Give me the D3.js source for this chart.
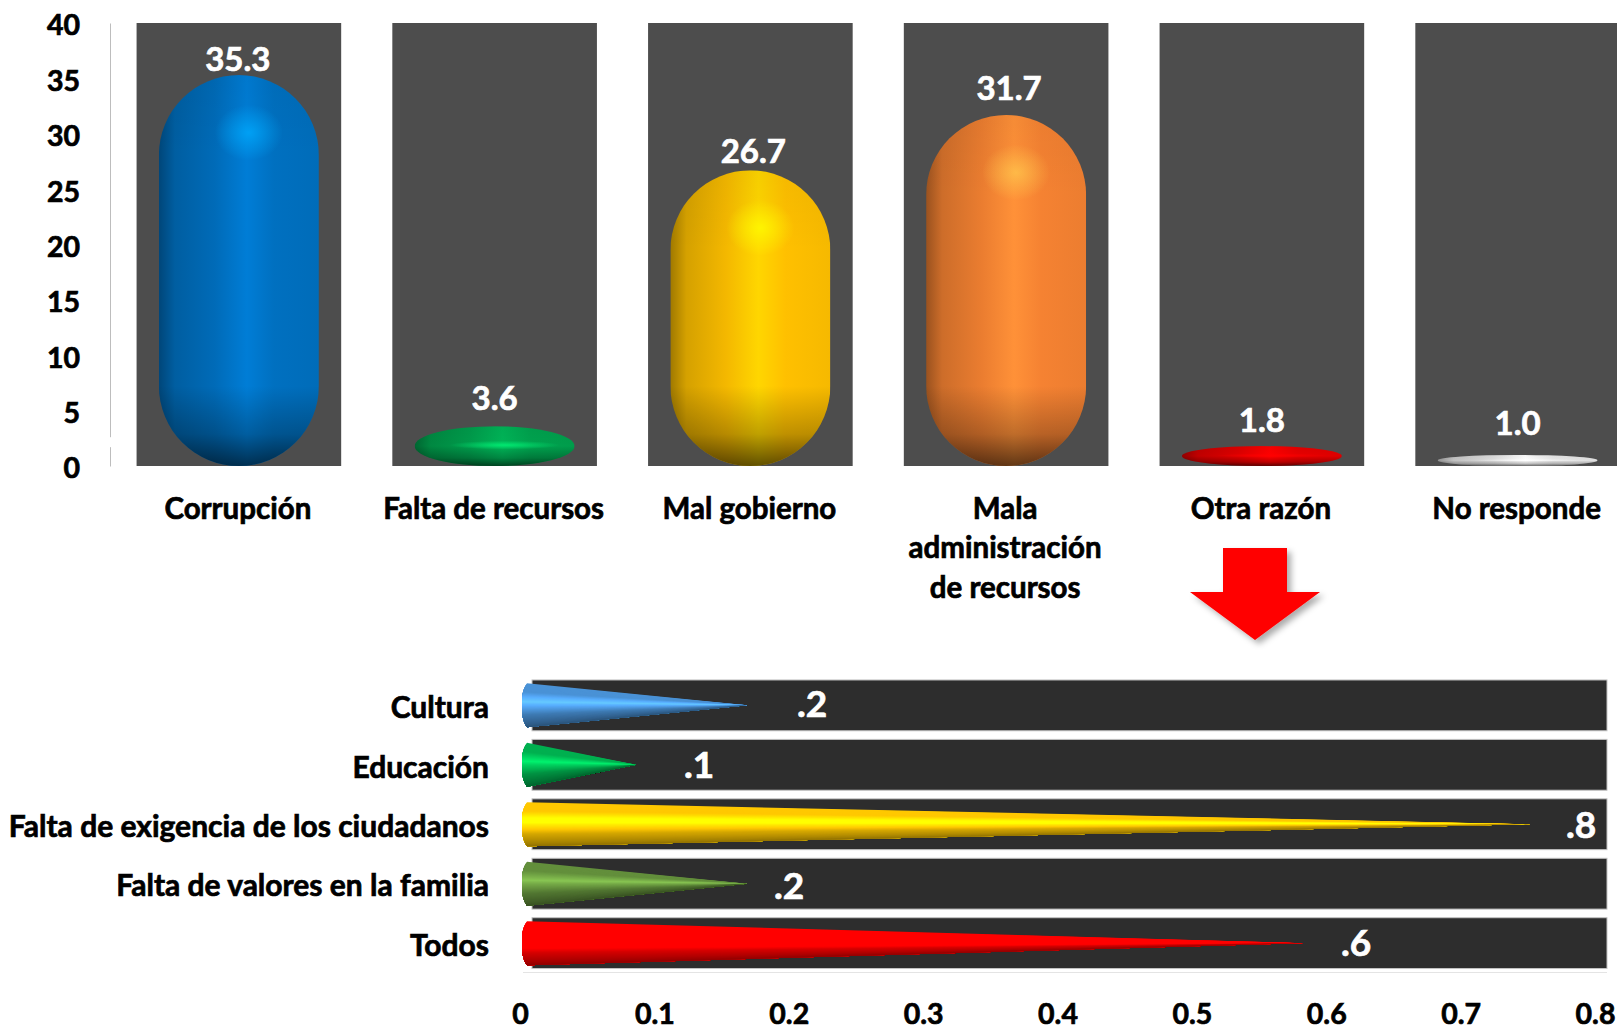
<!DOCTYPE html>
<html><head><meta charset="utf-8">
<script src="https://cdn.jsdelivr.net/npm/d3@7"></script>
<style>
html,body{margin:0;padding:0;background:#fff;overflow:hidden}
svg{display:block}
text{font-family:Lato,"Open Sans",sans-serif;font-weight:700;stroke-width:0.7px}
text.k{stroke:#000}
text.w{stroke:#fff}
</style></head><body>
<svg id="c" width="1617" height="1027"></svg>
<script>
// ---- data ----
const topCategories = [["Corrupción"],["Falta de recursos"],["Mal gobierno"],["Mala","administración","de recursos"],["Otra razón"],["No responde"]];
const topValues = [35.3,3.6,26.7,31.7,1.8,1.0];
const topLabels = ["35.3","3.6","26.7","31.7","1.8","1.0"];
const topColors = ["#0070c0","#00a24e","#ffc000","#f58232","#e60000","#e6e6e6"];
const topTicks = [0,5,10,15,20,25,30,35,40];
const bottomCategories = ["Cultura","Educación","Falta de exigencia de los ciudadanos","Falta de valores en la familia","Todos"];
const bottomValues = [0.169,0.0865,0.752,0.169,0.583];
const bottomLabels = [".2",".1",".8",".2",".6"];
const bottomColors = ["#4a92d6","#00b050","#ffc800","#638f3c","#ff0000"];
const bottomTicks = [0,0.1,0.2,0.3,0.4,0.5,0.6,0.7,0.8];

// ---- layout ----
const svg = d3.select("#c"), defs = svg.append("defs");
const x = d3.scaleBand().domain(d3.range(6)).range([111,1645.5]).paddingInner(0.2).paddingOuter(0.1);
const y = d3.scaleLinear().domain([0,40]).range([466,23]);
const xb = d3.scaleLinear().domain([0,0.8]).range([520,1595]);
const yb = d3.scaleBand().domain(d3.range(5)).range([675.5,973]).paddingInner(0.145).paddingOuter(0.075);
const capsuleW = 160, coneH = 44, coneBaseX = 522, coneShoulder = 5;
const labelLift = [16,28,19,27,26,32], labelShift = [-1,0,3,3,0,0];
const lowerLabelX = [812,699,1581,789,1356], lowerLabelDy = [-2,0,0,2,0];

// ---- upper chart ----
svg.selectAll("rect.panel").data(topValues).join("rect").attr("class","panel")
  .attr("x",(d,i)=>x(i)).attr("y",y(40)).attr("width",x.bandwidth()).attr("height",y(0)-y(40))
  .attr("fill","#4d4d4d");

topColors.forEach((c,i)=>{
  const b = d3.color(c);
  const h = defs.append("linearGradient").attr("id","h"+i);
  [[0,b.darker(1.3)],[0.1,b.darker(0.5)],[0.35,b.darker(0.12)],[0.55,b.brighter(0.3)],[0.72,b],[1,b.darker(0.1)]]
    .forEach(s=>h.append("stop").attr("offset",s[0]).attr("stop-color",s[1]));
  const r = defs.append("radialGradient").attr("id","r"+i);
  r.append("stop").attr("offset",0).attr("stop-color",b.brighter(1.2)).attr("stop-opacity",0.75);
  r.append("stop").attr("offset",1).attr("stop-color",b.brighter(1.2)).attr("stop-opacity",0);
});
const bot = defs.append("linearGradient").attr("id","bot").attr("x1",0).attr("x2",0).attr("y1",0).attr("y2",1);
bot.append("stop").attr("offset",0).attr("stop-color","#000").attr("stop-opacity",0);
bot.append("stop").attr("offset",0.6).attr("stop-color","#000").attr("stop-opacity",0.25);
bot.append("stop").attr("offset",1).attr("stop-color","#000").attr("stop-opacity",0.62);
const topG = defs.append("linearGradient").attr("id","topg").attr("x1",0).attr("x2",0).attr("y1",0).attr("y2",1);
topG.append("stop").attr("offset",0).attr("stop-color","#000").attr("stop-opacity",0.04);
topG.append("stop").attr("offset",1).attr("stop-color","#000").attr("stop-opacity",0);

topValues.forEach((v,i)=>{
  const cx = x(i)+x.bandwidth()/2, top = y(v), hgt = y(0)-top, ry = Math.min(capsuleW/2,hgt/2), left = cx-capsuleW/2;
  const tall = hgt>capsuleW;
  defs.append("clipPath").attr("id","clip"+i).append("rect")
    .attr("x",left).attr("y",top).attr("width",capsuleW).attr("height",hgt).attr("rx",capsuleW/2).attr("ry",ry);
  const g = svg.append("g").attr("clip-path",`url(#clip${i})`);
  g.append("rect").attr("x",left).attr("y",top).attr("width",capsuleW).attr("height",hgt).attr("fill",`url(#h${i})`);
  g.append("rect").attr("x",left).attr("y",top).attr("width",capsuleW).attr("height",ry).attr("fill","url(#topg)");
  g.append("rect").attr("x",left).attr("y",top+hgt-ry).attr("width",capsuleW).attr("height",ry).attr("fill","url(#bot)");
  g.append("ellipse").attr("cx",cx+10).attr("cy",top+ry*(tall?0.72:0.95))
    .attr("rx",tall?34:55).attr("ry",tall?28:ry*0.22).attr("fill",`url(#r${i})`);
  svg.append("text").attr("class","w").attr("x",cx+labelShift[i]).attr("y",top-labelLift[i]).attr("dy","0.36em")
    .attr("text-anchor","middle").attr("fill","#fff").attr("font-size",33).text(topLabels[i]);
});

const ya = svg.append("g").attr("transform","translate(110,0)")
  .call(d3.axisLeft(y).tickValues(topTicks).tickSize(0).tickPadding(30).tickFormat(d3.format("d")));
ya.select(".domain").attr("stroke","#bdbdbd");
ya.selectAll("text").attr("class","k").attr("font-size",28.5).attr("fill","#000").attr("dy","0.42em").style("font-family","Lato").style("font-weight",700);
svg.append("rect").attr("x",107).attr("y",y(2.6)).attr("width",6).attr("height",y(1.7)-y(2.6)).attr("fill","#fff");

topCategories.forEach((lines,i)=>{
  const t = svg.append("text").attr("class","k").attr("text-anchor","middle").attr("font-size",29.5).attr("fill","#000");
  lines.forEach((l,k)=>t.append("tspan").attr("x",x(i)+x.bandwidth()/2-1).attr("y",508+k*39.7).attr("dy","0.36em").text(l));
});

// ---- arrow ----
const sh = defs.append("filter").attr("id","shadow").attr("x","-20%").attr("y","-20%").attr("width","150%").attr("height","150%");
sh.append("feDropShadow").attr("dx",4).attr("dy",4).attr("stdDeviation",3).attr("flood-color","#000").attr("flood-opacity",0.33);
svg.append("path").attr("d","M1223,548H1287V592H1320L1255,640L1190,592H1223Z").attr("fill","#ff0000").attr("filter","url(#shadow)");

// ---- lower chart ----
svg.selectAll("rect.lp").data(bottomValues).join("rect").attr("class","lp")
  .attr("x",532).attr("y",(d,i)=>yb(i)).attr("width",1607-532).attr("height",yb.bandwidth())
  .attr("fill","#2d2d2d").attr("stroke","#c4c4c4").attr("stroke-width",1);
svg.append("line").attr("x1",523).attr("x2",1607).attr("y1",972.5).attr("y2",972.5).attr("stroke","#e4e4e4");

bottomValues.forEach((v,i)=>{
  const cy = yb(i)+yb.bandwidth()/2, tip = xb(v), b = d3.color(bottomColors[i]);
  const shade = d3.scaleLinear().domain([0,0.2,0.42,0.5,0.72,0.93,1])
    .range([b,b,b.brighter(0.9),b.brighter(0.5),b.darker(0.5),b.darker(1.2),b.darker(1.6)]).interpolate(d3.interpolateRgb);
  const n = 44, g = svg.append("g");
  const bow = yy => coneBaseX + coneShoulder*Math.pow(Math.abs(yy-cy)/(coneH/2),3);
  d3.range(n).forEach(k=>{
    const y0 = cy-coneH/2+coneH*k/n, yEnd = cy+coneH/2;
    const p = d3.path();
    p.moveTo(tip,cy);
    p.lineTo(bow(y0),y0);
    d3.range(k,n+1).forEach(m=>{const yy=cy-coneH/2+coneH*m/n;p.lineTo(bow(yy),yy);});
    p.closePath();
    g.append("path").attr("d",p.toString()).attr("fill",shade((k+0.5)/n));
  });
  svg.append("text").attr("class","w").attr("x",lowerLabelX[i]).attr("y",cy+lowerLabelDy[i]).attr("dy","0.36em").attr("text-anchor","middle")
    .attr("fill","#fff").attr("font-size",37).text(bottomLabels[i]);
  svg.append("text").attr("class","k").attr("x",489).attr("y",cy+2).attr("dy","0.36em").attr("text-anchor","end")
    .attr("fill","#000").attr("font-size",30).text(bottomCategories[i]);
});

const xa = svg.append("g").attr("transform","translate(0,1004)")
  .call(d3.axisBottom(xb).tickValues(bottomTicks).tickSize(0).tickPadding(0).tickFormat(d=>d===0?"0":d3.format(".1f")(d)));
xa.select(".domain").remove();
xa.selectAll("text").attr("class","k").attr("font-size",28.5).attr("fill","#000").style("font-family","Lato").style("font-weight",700);
</script></body></html>
